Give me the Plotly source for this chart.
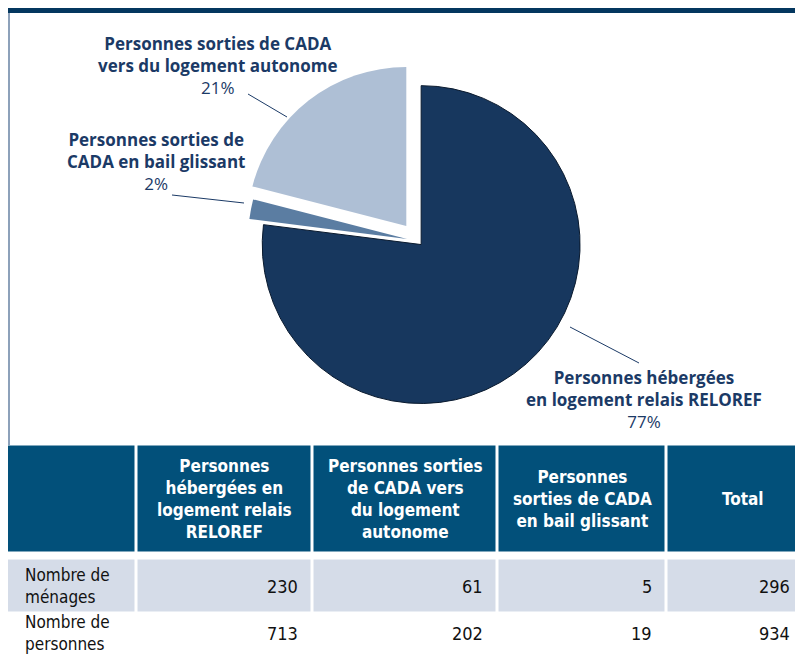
import plotly.graph_objects as go

# pie: slices in clockwise order from 12 o'clock
slice_labels = [
    "Personnes hébergées<br>en logement relais RELOREF",
    "Personnes sorties de<br>CADA en bail glissant",
    "Personnes sorties de CADA<br>vers du logement autonome",
]
slice_shares = [77, 2, 21]
slice_colors = ["#17375E", "#5B7DA2", "#AEBFD5"]

# table
col_headers = [
    "",
    "Personnes<br>hébergées en<br>logement relais<br>RELOREF",
    "Personnes sorties<br>de CADA vers<br>du logement<br>autonome",
    "Personnes<br>sorties de CADA<br>en bail glissant",
    "Total",
]
row_labels = ["Nombre de<br>ménages", "Nombre de<br>personnes"]
menages = [230, 61, 5, 296]
personnes = [713, 202, 19, 934]

# page body keeps an 8px margin, so the figure fills the rest of the window;
# the table runs past the figure edges and gets cut there
W, H = 787, 648
OFF = 8
NAVY = "#1B3A66"
TABLE_FONT = "DejaVu Sans Condensed, Liberation Sans Narrow, sans-serif"
LABEL_FONT = "Open Sans, Noto Sans, sans-serif"

# table layout in screen pixels (header, spacer, row 1, row 2)
col_edges = [6.5, 136.5, 312.5, 497.5, 666.5, 820]
row_edges = [444.5, 553.5, 558.5, 613.5, 690]


def scr(x, y):
    """screen pixel -> paper coords"""
    return (x - OFF) / W, 1 - (y - OFF) / H


fig = go.Figure()

cx, cy = scr(418, 241)
half = 178
fig.add_trace(go.Pie(
    values=slice_shares,
    labels=[l.replace("<br>", " ") for l in slice_labels],
    sort=False,
    direction="clockwise",
    rotation=0,
    pull=[0.03, 0.07, 0.12],
    marker=dict(colors=slice_colors,
                line=dict(color=["#0A1A2E", "#5B7DA2", "#AEBFD5"], width=[1, 0, 0])),
    textinfo="none",
    hoverinfo="label+percent",
    showlegend=False,
    domain=dict(x=[cx - half / W, cx + half / W], y=[cy - half / H, cy + half / H]),
))

# table cells as a heatmap on hidden pixel axes
fills = [[0] * 5, [2] * 5, [1] * 5, [2] * 5]
fig.add_trace(go.Heatmap(
    x=col_edges, y=row_edges, z=fills,
    zmin=0, zmax=2,
    colorscale=[[0, "#02507A"], [0.5, "#D5DCE8"], [1, "#FFFFFF"]],
    xgap=3, ygap=3, showscale=False, hoverinfo="skip",
))

head_mid = (row_edges[0] + row_edges[1]) / 2
body_mid = [(row_edges[2] + row_edges[3]) / 2, 633]
col_mid = [(col_edges[i] + col_edges[i + 1]) / 2 for i in range(5)]
x_max = OFF + W - 3  # keep the totals inside the visible area

for j, head in enumerate(col_headers):
    if head:
        fig.add_annotation(x=col_mid[j], y=head_mid, xref="x", yref="y", showarrow=False,
                           text=head, align="center", xanchor="center", yanchor="middle",
                           font=dict(family=TABLE_FONT, size=17, color="white", weight=700))

for lab, vals, y in zip(row_labels, [menages, personnes], body_mid):
    fig.add_annotation(x=col_edges[0] + 16, y=y, xref="x", yref="y", showarrow=False,
                       text=lab, align="left", xanchor="left", yanchor="middle",
                       font=dict(family=TABLE_FONT, size=17, color="#111111"))
    for j, v in enumerate(vals):
        fig.add_annotation(x=min(col_edges[j + 2] - 13, x_max), y=y, xref="x", yref="y",
                           showarrow=False, text=str(v), xanchor="right", yanchor="middle",
                           font=dict(family=TABLE_FONT, size=18, color="#111111"))

# slice labels with leader lines
label_pos = [(644, 399), (156, 162), (218, 65)]
leader = [((570, 327), (639, 363)), ((244, 203), (172, 195)), ((287, 117), (248, 94))]
for lab, share, (lx, ly), (p0, p1) in zip(slice_labels, slice_shares, label_pos, leader):
    x, y = scr(lx, ly)
    fig.add_annotation(
        x=x, y=y, xref="paper", yref="paper", showarrow=False,
        text=f"<b>{lab}</b><br>{share}%",
        font=dict(family=LABEL_FONT, size=17, color=NAVY),
        align="center", xanchor="center", yanchor="middle",
    )
    x0, y0 = scr(*p0)
    x1, y1 = scr(*p1)
    fig.add_shape(type="line", xref="paper", yref="paper", x0=x0, y0=y0, x1=x1, y1=y1,
                  line=dict(color=NAVY, width=1))

# frame: top band and left rule
bx0, by0 = scr(8, 8)
bx1, by1 = scr(OFF + W, 13)
fig.add_shape(type="rect", xref="paper", yref="paper", x0=bx0, y0=by1, x1=bx1, y1=by0,
              fillcolor="#04375F", line_width=0, layer="below")
lx0, ly0 = scr(9, 13)
lx1, ly1 = scr(9, 445)
fig.add_shape(type="line", xref="paper", yref="paper", x0=lx0, y0=ly0, x1=lx1, y1=ly1,
              line=dict(color="#8DA1BA", width=2))

fig.update_layout(
    width=W, height=H,
    margin=dict(l=0, r=0, t=0, b=0),
    paper_bgcolor="white",
    plot_bgcolor="white",
    xaxis=dict(range=[OFF, OFF + W], visible=False, fixedrange=True),
    yaxis=dict(range=[OFF + H, OFF], visible=False, fixedrange=True),
)

fig.write_html("out.html")
